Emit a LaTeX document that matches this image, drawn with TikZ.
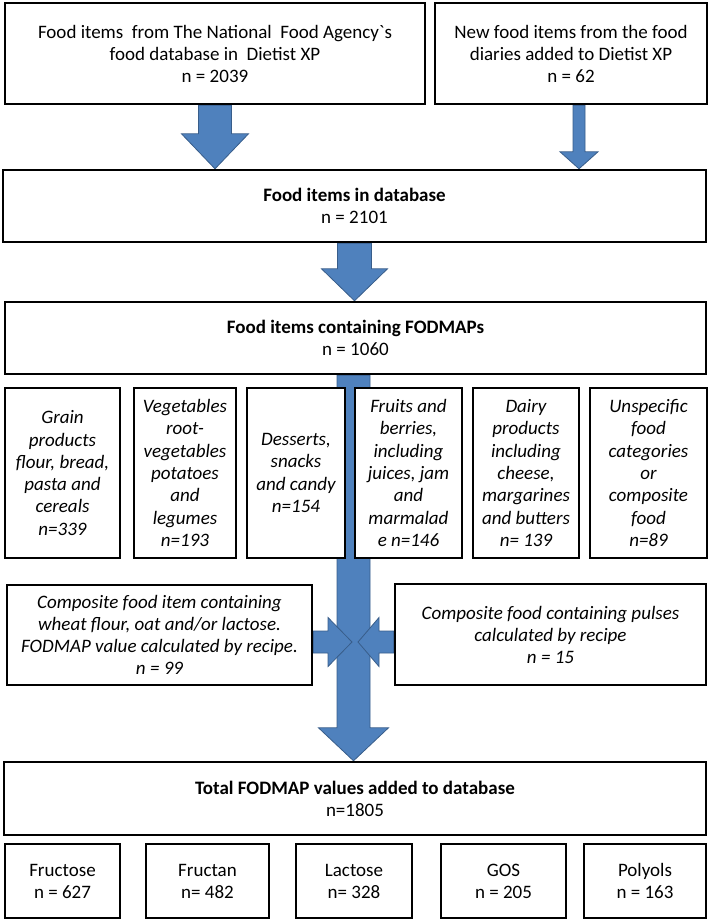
\documentclass[tikz,border=0pt]{standalone}
\usepackage{fontspec}
\setmainfont{Carlito}
\usetikzlibrary{calc}
\pgfdeclarelayer{bg}
\pgfsetlayers{bg,main}
\definecolor{arrowblue}{HTML}{4F81BD}
\definecolor{arrowedge}{HTML}{385D8A}
\tikzset{
  box/.style={draw=black, line width=2.4pt, fill=white, rectangle, align=center,
    inner sep=0pt, font=\fontsize{19}{22}\selectfont},
  catbox/.style={box, font=\fontsize{19}{22.3}\selectfont\itshape},
  compbox/.style={box, font=\fontsize{19}{22}\selectfont\itshape},
  blockarrow/.style={fill=arrowblue, draw=arrowedge, line width=0.8pt, line join=miter},
}
% #1 start, #2 tip, #3 half shaft, #4 half head, #5 head length
\newcommand\blockdown[5]{%
  \filldraw[blockarrow] let \p1=(#1), \p2=(#2) in
    (\x1-#3,\y1) -- (\x1+#3,\y1) -- (\x1+#3,\y2+#5) -- (\x1+#4,\y2+#5) -- (\x1,\y2)
    -- (\x1-#4,\y2+#5) -- (\x1-#3,\y2+#5) -- cycle;}
\newcommand\blockright[5]{%
  \filldraw[blockarrow] let \p1=(#1), \p2=(#2) in
    (\x1,\y1+#3) -- (\x2-#5,\y1+#3) -- (\x2-#5,\y1+#4) -- (\x2,\y1)
    -- (\x2-#5,\y1-#4) -- (\x2-#5,\y1-#3) -- (\x1,\y1-#3) -- cycle;}
\newcommand\blockleft[5]{%
  \filldraw[blockarrow] let \p1=(#1), \p2=(#2) in
    (\x1,\y1+#3) -- (\x2+#5,\y1+#3) -- (\x2+#5,\y1+#4) -- (\x2,\y1)
    -- (\x2+#5,\y1-#4) -- (\x2+#5,\y1-#3) -- (\x1,\y1-#3) -- cycle;}
\begin{document}
\begin{tikzpicture}[x=1pt, y=-1pt]
\useasboundingbox (0,0) rectangle (709,922);

% top boxes
\node[box, minimum width=420pt, minimum height=101pt] (A) at (215,53.5)
  {Food items\ \ from The National\ \ Food Agency\textasciigrave s\\food database in\ \ Dietist XP\\n = 2039};
\node[box, minimum width=272pt, minimum height=101pt] (B) at (571,53.5)
  {New food items from the food\\diaries added to Dietist XP\\n = 62};
\node[box, minimum width=703pt, minimum height=72pt] (C) at (354.5,206)
  {\textbf{Food items in database}\\n = 2101};
\node[box, minimum width=701pt, minimum height=72pt] (D) at (355.5,338)
  {\textbf{Food items containing FODMAPs}\\n = 1060};

% category boxes
\node[catbox, minimum width=115pt, minimum height=170pt] (c1) at (62.5,473)
  {Grain\\products\\flour, bread,\\pasta and\\cereals\\n=339};
\node[catbox, minimum width=102pt, minimum height=170pt] (c2) at (185,473)
  {Vegetables\\root-\\vegetables\\potatoes\\and\\legumes\\n=193};
\node[catbox, minimum width=98pt, minimum height=170pt] (c3) at (296,473)
  {Desserts,\\snacks\\and candy\\n=154};
\node[catbox, minimum width=107pt, minimum height=170pt] (c4) at (408.5,473)
  {Fruits and\\berries,\\including\\juices, jam\\and\\marmalad\\e n=146};
\node[catbox, minimum width=106pt, minimum height=170pt] (c5) at (526,473)
  {Dairy\\products\\including\\cheese,\\margarines\\and butters\\n= 139};
\node[catbox, minimum width=117pt, minimum height=170pt] (c6) at (648.5,473)
  {Unspecific\\food\\categories\\or\\composite\\food\\n=89};

% composite boxes
\node[compbox, minimum width=305pt, minimum height=100pt] (L) at (159.5,635)
  {Composite food item containing\\wheat flour, oat and/or lactose.\\FODMAP value calculated by recipe.\\n = 99};
\node[compbox, minimum width=311pt, minimum height=101pt] (R) at (550.5,634.5)
  {Composite food containing pulses\\calculated by recipe\\n = 15};

% total
\node[box, minimum width=702pt, minimum height=73pt] (T) at (355,798.5)
  {\textbf{Total FODMAP values added to database}\\n=1805};

% sugar boxes
\node[box, minimum width=115pt, minimum height=74pt] (s1) at (62.5,881) {Fructose\\n = 627};
\node[box, minimum width=123pt, minimum height=74pt] (s2) at (207.5,881) {Fructan\\n= 482};
\node[box, minimum width=116pt, minimum height=74pt] (s3) at (354,881) {Lactose\\n= 328};
\node[box, minimum width=125pt, minimum height=74pt] (s4) at (503.5,881) {GOS\\n = 205};
\node[box, minimum width=122pt, minimum height=74pt] (s5) at (645,881) {Polyols\\n = 163};

% connector coordinates
\coordinate (bA) at (A.south);
\coordinate (tA) at (A.south |- C.north);
\coordinate (bB) at ($(B.south)+(8,0)$);
\coordinate (tB) at (bB |- C.north);
\coordinate (bC) at (C.south);
\coordinate (tC) at (C.south |- D.north);
\coordinate (bD) at ($(D.south)+(-2,0)$);
\coordinate (tD) at (bD |- T.north);
\coordinate (bL) at ($(L.east)+(0,7)$);
\coordinate (tL) at ($(bD |- bL)+(-1.5,0)$);
\coordinate (bR) at ($(R.west)+(0,7.5)$);
\coordinate (tR) at ($(bD |- bR)+(4.5,0)$);

\begin{pgfonlayer}{bg}
  \blockdown{bA}{tA}{16.5pt}{33.5pt}{35pt}
  \blockdown{bB}{tB}{6pt}{19pt}{17pt}
  \blockdown{bC}{tC}{17pt}{33pt}{32pt}
  \blockdown{bD}{tD}{16.5pt}{35pt}{33pt}
  \blockright{bL}{tL}{11pt}{24.5pt}{24pt}
  \blockleft{bR}{tR}{11pt}{24.5pt}{21pt}
\end{pgfonlayer}
\end{tikzpicture}
\end{document}
